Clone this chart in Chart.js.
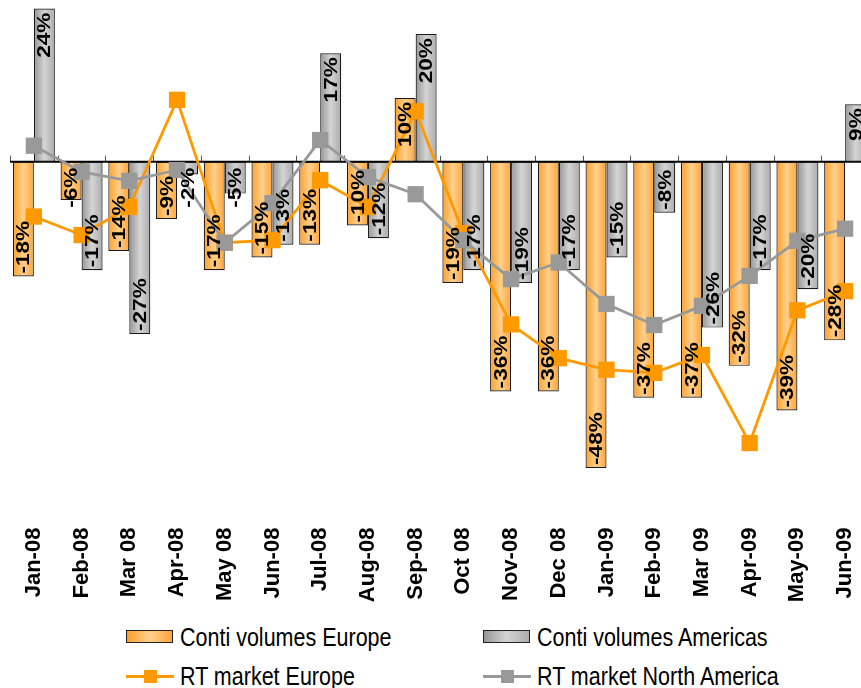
<!DOCTYPE html>
<html>
<head>
<meta charset="utf-8">
<script src="https://cdn.jsdelivr.net/npm/chart.js@4/dist/chart.umd.min.js"></script>
<style>
  html, body { margin: 0; padding: 0; background: #fff; overflow: hidden; }
  #grafico { position: absolute; left: 0; top: 0; }
  .leg { position: absolute; font-family: "Liberation Sans", Arial, sans-serif; font-size: 21.5px; line-height: 22px; color: #000; }
  .leg span { display: inline-block; transform: scaleY(1.22); transform-origin: left center; white-space: nowrap; }
  .box { position: absolute; width: 45px; height: 11px; border: 1.5px solid #222; }
  .linha { position: absolute; width: 48px; height: 3px; }
  .quad { position: absolute; width: 13px; height: 13px; }
</style>
</head>
<body>
<canvas id="grafico" width="870" height="610"></canvas>
<div id="legenda"></div>
<script>
// dados
const meses = ['Jan-08', 'Feb-08', 'Mar 08', 'Apr-08', 'May 08', 'Jun-08', 'Jul-08', 'Aug-08', 'Sep-08',
    'Oct 08', 'Nov-08', 'Dec 08', 'Jan-09', 'Feb-09', 'Mar 09', 'Apr-09', 'May-09', 'Jun-09'];
const contiEurope = [-18, -6, -14, -9, -17, -15, -13, -10, 10, -19, -36, -36, -48, -37, -37, -32, -39, -28];
const contiAmericas = [24, -17, -27, -2, -5, -13, 17, -12, 20, -17, -19, -17, -15, -8, -26, -17, -20, 9];
const rtEurope = [-8.6, -11.5, -7.1, 9.7, -12.7, -12.3, -2.9, -7.1, 7.9, -11.2, -25.5, -30.8, -32.6, -33.1, -30.3, -44.1, -23.3, -20.3];
const rtAmerica = [2.5, -1.6, -3.0, -1.3, -12.7, -6.5, 3.4, -2.4, -5.1, -12.3, -18.4, -15.8, -22.3, -25.6, -22.6, -17.9, -12.4, -10.5];

const fonte = '"Liberation Sans", Arial, sans-serif';

// gradiente horizontal de cada barra
function degrade(cores, base) {
    return (c) => {
        const el = c.element;
        if (!el || el.x === undefined || !isFinite(el.width)) return base;
        const g = c.chart.ctx.createLinearGradient(el.x - el.width / 2, 0, el.x + el.width / 2, 0);
        g.addColorStop(0, cores[0]);
        g.addColorStop(0.5, cores[1]);
        g.addColorStop(1, cores[2]);
        return g;
    };
}

// linha do zero com os tracinhos das categorias
const linhaZero = {
    id: 'linhaZero',
    beforeDatasetsDraw(chart) {
        const ctx = chart.ctx;
        const x = chart.scales.x;
        const y0 = chart.scales.y.getPixelForValue(0);
        ctx.save();
        ctx.strokeStyle = '#555';
        ctx.lineWidth = 1;
        for (let i = 0; i <= meses.length; i++) {
            const px = Math.round(x.getPixelForValue(i - 0.5)) + 0.5;
            ctx.beginPath();
            ctx.moveTo(px, y0 - 6);
            ctx.lineTo(px, y0);
            ctx.stroke();
        }
        ctx.strokeStyle = '#000';
        ctx.lineWidth = 2;
        ctx.beginPath();
        ctx.moveTo(chart.chartArea.left, y0);
        ctx.lineTo(chart.chartArea.right, y0);
        ctx.stroke();
        ctx.restore();
    }
};

// rótulos de porcentagem dentro das barras
const rotulos = {
    id: 'rotulos',
    afterDatasetsDraw(chart) {
        const ctx = chart.ctx;
        const y0 = chart.scales.y.getPixelForValue(0);
        [0, 1].forEach(d => {
            const valores = chart.data.datasets[d].data;
            chart.getDatasetMeta(d).data.forEach((bar, i) => {
                const txt = valores[i] + '%';
                ctx.save();
                ctx.font = 'bold 18.5px ' + fonte;
                const len = ctx.measureText(txt).width * 1.22;
                let base;
                if (valores[i] < 0) {
                    base = Math.max(bar.y - 3, y0 + 6 + len);
                } else {
                    base = bar.y + 4 + len;
                }
                ctx.translate(bar.x + 1, base);
                ctx.rotate(-Math.PI / 2);
                ctx.scale(1.22, 1);
                ctx.fillStyle = '#000';
                ctx.textAlign = 'left';
                ctx.textBaseline = 'middle';
                ctx.fillText(txt, 0, 0);
                ctx.restore();
            });
        });
    }
};

const grafico = new Chart(document.getElementById('grafico'), {
    data: {
        labels: meses,
        datasets: [
            {
                type: 'bar',
                label: 'Conti volumes Europe',
                data: contiEurope,
                backgroundColor: degrade(['#FF9F2A', '#FFD08C', '#FFA43A'], '#FFB85C'),
                borderColor: '#1a1a1a',
                borderWidth: 1.2,
                borderSkipped: false,
                barPercentage: 1,
                categoryPercentage: 0.88,
                order: 2
            },
            {
                type: 'bar',
                label: 'Conti volumes Americas',
                data: contiAmericas,
                backgroundColor: degrade(['#969696', '#D4D4D4', '#ABABAB'], '#BBBBBB'),
                borderColor: '#1a1a1a',
                borderWidth: 1.2,
                borderSkipped: false,
                barPercentage: 1,
                categoryPercentage: 0.88,
                order: 2
            },
            {
                type: 'line',
                label: 'RT market Europe',
                data: rtEurope,
                borderColor: '#FF9900',
                backgroundColor: '#FF9900',
                borderWidth: 2.8,
                pointStyle: 'rect',
                pointRadius: 11.5,
                pointBorderWidth: 0,
                tension: 0,
                clip: false,
                order: 1
            },
            {
                type: 'line',
                label: 'RT market North America',
                data: rtAmerica,
                borderColor: '#999999',
                backgroundColor: '#999999',
                borderWidth: 2.8,
                pointStyle: 'rect',
                pointRadius: 11.5,
                pointBorderWidth: 0,
                tension: 0,
                clip: false,
                order: 0
            }
        ]
    },
    options: {
        responsive: false,
        animation: false,
        layout: { autoPadding: false, padding: { left: 10, right: 1, top: 2.2, bottom: 0 } },
        plugins: {
            legend: { display: false },
            tooltip: { enabled: false }
        },
        scales: {
            x: {
                grid: { display: false },
                border: { display: false },
                ticks: {
                    autoSkip: false,
                    maxRotation: 90,
                    minRotation: 90,
                    padding: 7,
                    color: '#000',
                    font: { family: fonte, size: 22, weight: 'bold' }
                },
                afterFit(scale) {
                    scale.height = 97.4;
                    scale.paddingLeft = 0;
                    scale.paddingRight = 0;
                }
            },
            y: {
                display: false,
                min: -55,
                max: 25
            }
        }
    },
    plugins: [linhaZero, rotulos]
});
// segunda passada para os gradientes pegarem a posição das barras
grafico.update();

// legenda em 2 colunas
const legenda = document.getElementById('legenda');
const itens = [
    { txt: 'Conti volumes Europe', x: 126, y: 637, tipo: 'bar', cor: 'linear-gradient(90deg, #FF9F2A, #FFD08C, #FFA43A)' },
    { txt: 'Conti volumes Americas', x: 483, y: 637, tipo: 'bar', cor: 'linear-gradient(90deg, #969696, #D4D4D4, #ABABAB)' },
    { txt: 'RT market Europe', x: 126, y: 676, tipo: 'line', cor: '#FF9900' },
    { txt: 'RT market North America', x: 483, y: 676, tipo: 'line', cor: '#999999' }
];
itens.forEach(it => {
    if (it.tipo === 'bar') {
        const b = document.createElement('div');
        b.className = 'box';
        b.style.left = it.x + 'px';
        b.style.top = (it.y - 7) + 'px';
        b.style.background = it.cor;
        legenda.appendChild(b);
    } else {
        const l = document.createElement('div');
        l.className = 'linha';
        l.style.left = it.x + 'px';
        l.style.top = (it.y - 1.5) + 'px';
        l.style.background = it.cor;
        legenda.appendChild(l);
        const q = document.createElement('div');
        q.className = 'quad';
        q.style.left = (it.x + 17.5) + 'px';
        q.style.top = (it.y - 6.5) + 'px';
        q.style.background = it.cor;
        legenda.appendChild(q);
    }
    const t = document.createElement('div');
    t.className = 'leg';
    t.style.left = (it.x + 54) + 'px';
    t.style.top = (it.y - 11) + 'px';
    t.innerHTML = '<span>' + it.txt + '</span>';
    legenda.appendChild(t);
});
</script>
</body>
</html>
